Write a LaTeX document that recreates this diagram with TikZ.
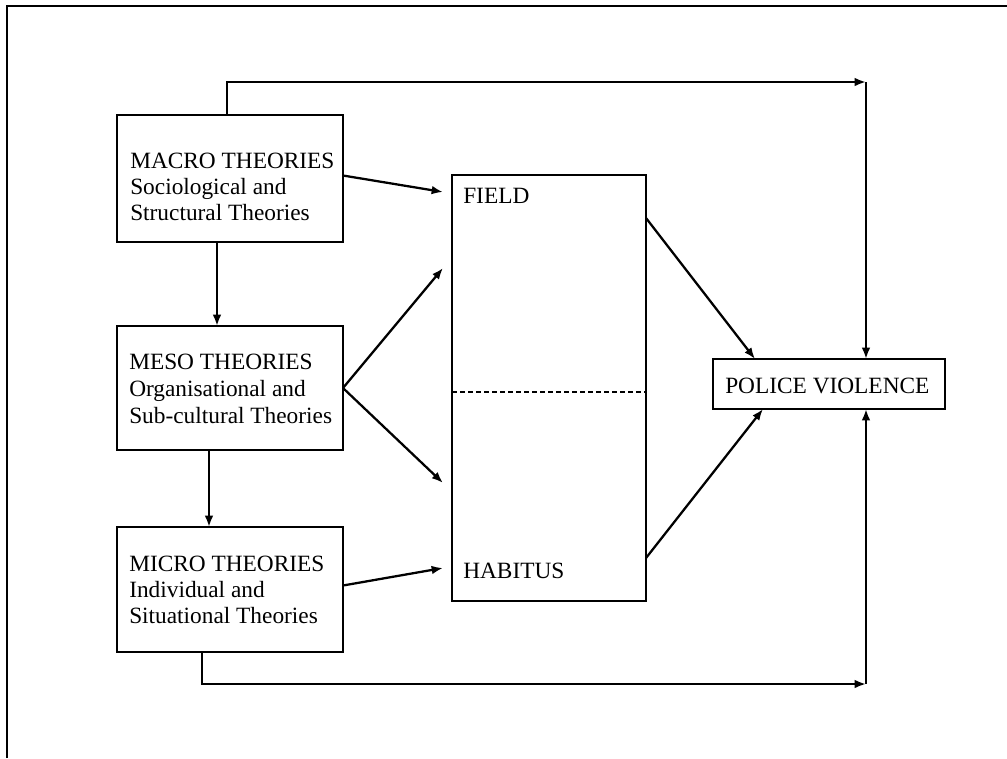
\documentclass[tikz,border=0pt]{standalone}
\usepackage{fontspec}
\setmainfont{Liberation Serif}
\usetikzlibrary{arrows.meta,calc}
\begin{document}
\begin{tikzpicture}[x=0.75pt,y=-0.75pt,
  box/.style={draw,line width=1.5pt,inner sep=0pt,outer sep=0pt,anchor=north west},
  lbl/.style={anchor=base west,inner sep=0pt,font=\fontsize{17.5}{20}\selectfont},
  arr/.style={line width=1.7pt,-{Latex[length=8.5pt,width=6.5pt]}},
  frameline/.style={line width=1.7pt,line join=miter},
  divider/.style={line width=1.1pt,dash pattern=on 3.5pt off 2.5pt},
]
\useasboundingbox (0,0) rectangle (1007,758);

% open frame: top and left edges only
\draw[frameline] (7,758) -- (7,6) -- (1007,6);

% theory boxes
\node[box,minimum width=226*0.75pt,minimum height=127*0.75pt] (macro) at (117,115) {};
\node[box,minimum width=226*0.75pt,minimum height=124*0.75pt] (meso)  at (117,326) {};
\node[box,minimum width=226*0.75pt,minimum height=125*0.75pt] (micro) at (117,527) {};

% field / habitus box and outcome box
\node[box,minimum width=194*0.75pt,minimum height=426*0.75pt] (center) at (452,175) {};
\node[box,minimum width=232*0.75pt,minimum height=50*0.75pt]  (police) at (713,359) {};

% labels
\node[lbl] (mac1) at (130,168) {MACRO THEORIES};
\node[lbl] (mac2) at (130,194) {Sociological and};
\node[lbl] (mac3) at (130,220) {Structural Theories};
\node[lbl] (mes1) at (129,369) {MESO THEORIES};
\node[lbl] (mes2) at (129,396) {Organisational and};
\node[lbl] (mes3) at (129,423) {Sub-cultural Theories};
\node[lbl] (mic1) at (129,571) {MICRO THEORIES};
\node[lbl] (mic2) at (129,597) {Individual and};
\node[lbl] (mic3) at (129,623) {Situational Theories};
\node[lbl] (field)   at (463,203) {FIELD};
\node[lbl] (habitus) at (463,578) {HABITUS};
\node[lbl] (pv)      at (725,393) {POLICE VIOLENCE};

% dashed divider between field and habitus
\draw[divider] ($(center.west)+(0,4)$) -- ($(center.east)+(0,4)$);

% helper points
\coordinate (xdown1) at (217,0);
\coordinate (xdown2) at (209,0);
\coordinate (xtop) at (227,0);
\coordinate (xbot) at (202,0);
\coordinate (ctop) at (866,82);
\coordinate (cbot) at (866,684);
\coordinate (fieldin) at (443,192);
\coordinate (upin) at (443,268);
\coordinate (downin) at (443,483);
\coordinate (habin) at (443,568);

% vertical cascade
\draw[arr] (macro.south -| xdown1) -- (meso.north -| xdown1);
\draw[arr] (meso.south -| xdown2) -- (micro.north -| xdown2);

% into field / habitus
\draw[arr] ($(macro.east)+(0,-3)$) -- (fieldin);
\draw[arr] (meso.east) -- (upin);
\draw[arr] (meso.east) -- (downin);
\draw[arr] ($(micro.east)+(0,-4)$) -- (habin);

% out to police violence
\draw[arr] ($(center.north east)+(0,43)$) -- ($(police.north west)+(42,0)$);
\draw[arr] ($(center.south east)+(0,-43)$) -- ($(police.south west)+(50,0)$);

% direct paths around the middle
\draw[arr] (macro.north -| xtop) |- (ctop);
\draw[arr] (ctop) -- (police.north -| ctop);
\draw[arr] (micro.south -| xbot) |- (cbot);
\draw[arr] (cbot) -- (police.south -| cbot);
\end{tikzpicture}
\end{document}
